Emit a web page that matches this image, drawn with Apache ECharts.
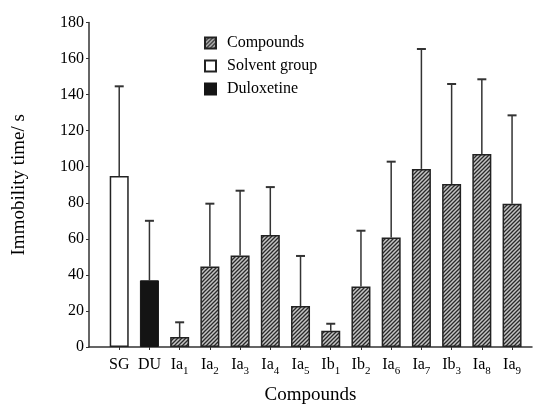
<!DOCTYPE html>
<html>
<head>
<meta charset="utf-8">
<script src="https://cdn.jsdelivr.net/npm/echarts@6/dist/echarts.min.js"></script>
<style>html,body{margin:0;padding:0;background:#fff}#c{width:536px;height:404px}</style>
</head>
<body>
<div id="c"></div>
<script>
// ---- data ----
const categories = ['SG', 'DU', 'Ia{s|1}', 'Ia{s|2}', 'Ia{s|3}', 'Ia{s|4}', 'Ia{s|5}', 'Ib{s|1}', 'Ib{s|2}', 'Ia{s|6}', 'Ia{s|7}', 'Ib{s|3}', 'Ia{s|8}', 'Ia{s|9}'];
const groups = ['Solvent group', 'Duloxetine', 'Compounds', 'Compounds', 'Compounds', 'Compounds', 'Compounds', 'Compounds', 'Compounds', 'Compounds', 'Compounds', 'Compounds', 'Compounds', 'Compounds'];
const means = [94.8, 37.0, 5.5, 44.7, 50.8, 62.1, 22.7, 9.0, 33.5, 60.8, 98.8, 90.4, 107.0, 79.5];
const upper = [144.6, 70.0, 13.7, 79.5, 86.7, 88.7, 50.5, 12.9, 64.5, 102.8, 165.3, 145.9, 148.5, 128.5];
const yTicks = [0, 20, 40, 60, 80, 100, 120, 140, 160, 180];

// ---- hatch pattern ----
function hatch() {
  const c = document.createElement('canvas');
  c.width = 4; c.height = 4;
  const g = c.getContext('2d');
  g.fillStyle = '#c4c4c4';
  g.fillRect(0, 0, 4, 4);
  g.strokeStyle = '#2a2a2a';
  g.lineWidth = 1.3;
  g.beginPath();
  g.moveTo(-1, 5); g.lineTo(5, -1);
  g.moveTo(-1, 1); g.lineTo(1, -1);
  g.moveTo(3, 5); g.lineTo(5, 3);
  g.stroke();
  return c;
}
const pattern = { image: hatch(), repeat: 'repeat' };

const styles = {
  'Solvent group': { color: '#ffffff', borderColor: '#222', borderWidth: 1.5 },
  'Duloxetine': { color: '#141414', borderColor: '#141414', borderWidth: 1 },
  'Compounds': { color: pattern, borderColor: '#222', borderWidth: 1.5 }
};
const order = ['Compounds', 'Solvent group', 'Duloxetine'];
const idx = categories.map((_, i) => i);

const serif = 'Liberation Serif, Times New Roman, serif';

const barSeries = order.map(name => ({
  name: name,
  type: 'bar',
  barWidth: 19,
  barGap: '-100%',
  itemStyle: styles[name],
  data: idx.filter(i => groups[i] === name).map(i => [i, means[i]]),
  z: 2
}));

const errSeries = {
  type: 'custom',
  z: 1,
  silent: true,
  data: idx.map(i => [i, means[i], upper[i]]),
  renderItem: function (params, api) {
    const x = api.value(0);
    const p0 = api.coord([x, api.value(1)]);
    const p1 = api.coord([x, api.value(2)]);
    const st = { stroke: '#333', lineWidth: 1.5 };
    return {
      type: 'group',
      children: [
        { type: 'line', shape: { x1: p0[0], y1: p0[1], x2: p1[0], y2: p1[1] }, style: st },
        { type: 'line', shape: { x1: p1[0] - 4.5, y1: p1[1], x2: p1[0] + 4.5, y2: p1[1] }, style: { stroke: '#333', lineWidth: 2 } }
      ]
    };
  }
};

const chart = echarts.init(document.getElementById('c'), null, { renderer: 'canvas' });
chart.setOption({
  animation: false,
  backgroundColor: '#fff',
  textStyle: { fontFamily: serif },
  grid: { left: 89, right: 4, top: 22.5, bottom: 57, containLabel: false, outerBoundsMode: 'none' },
  legend: {
    orient: 'vertical',
    left: 199,
    top: 30,
    itemWidth: 11,
    itemHeight: 11,
    itemGap: 7,
    icon: 'rect',
    data: order,
    textStyle: { fontFamily: serif, fontSize: 16, color: '#000', padding: [0, 0, 0, 6] }
  },
  xAxis: {
    type: 'value',
    min: -1,
    max: 13.66,
    interval: 1,
    name: 'Compounds',
    nameLocation: 'middle',
    nameGap: 39,
    nameTextStyle: { fontFamily: serif, fontSize: 19, color: '#000' },
    splitLine: { show: false },
    axisLine: { show: true, onZero: false, lineStyle: { color: '#333', width: 1.5 } },
    axisTick: { show: true, length: 3, inside: false, customValues: idx, lineStyle: { color: '#333', width: 1 } },
    axisLabel: {
      customValues: idx,
      margin: 10,
      fontFamily: serif,
      fontSize: 16,
      color: '#000',
      formatter: v => categories[Math.round(v)] || '',
      rich: {
        s: { fontFamily: serif, fontSize: 11, color: '#000', verticalAlign: 'bottom', padding: [0, 0, -4, 0] }
      }
    }
  },
  yAxis: {
    type: 'value',
    min: 0,
    max: 180,
    interval: 20,
    name: 'Immobility time/ s',
    nameLocation: 'middle',
    nameGap: 60,
    nameTextStyle: { fontFamily: serif, fontSize: 19, color: '#000' },
    splitLine: { show: false },
    axisLine: { show: true, onZero: false, lineStyle: { color: '#333', width: 1.5 } },
    axisTick: { show: true, length: 3, lineStyle: { color: '#333', width: 1 } },
    axisLabel: { margin: 5, fontFamily: serif, fontSize: 16, color: '#000', formatter: v => yTicks.indexOf(v) >= 0 ? String(v) : '' }
  },
  series: barSeries.concat([errSeries])
});
</script>
</body>
</html>
